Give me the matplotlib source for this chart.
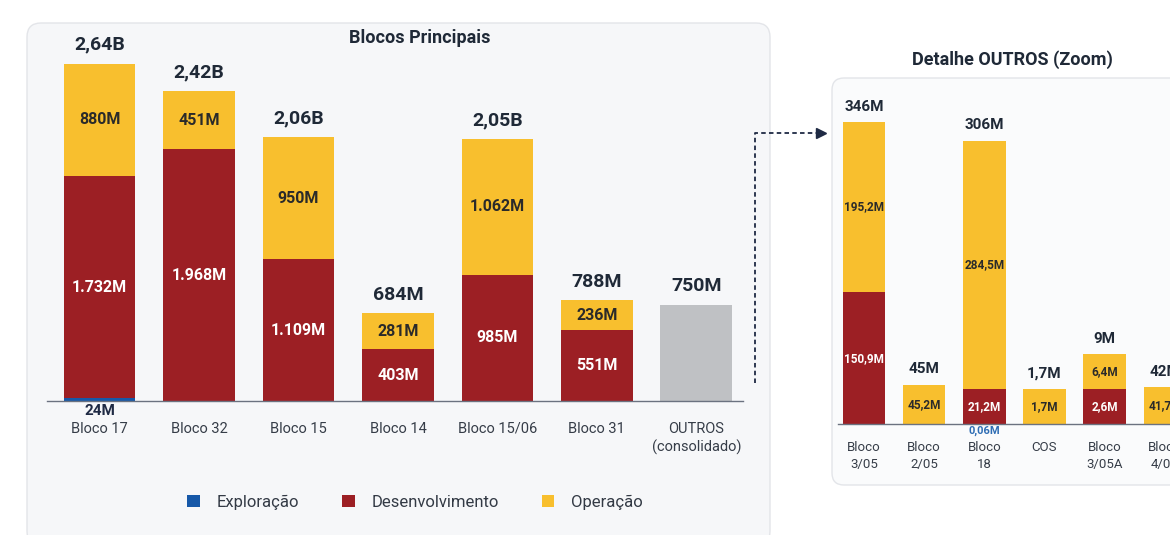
import numpy as np
import matplotlib
matplotlib.use("Agg")
import matplotlib.pyplot as plt
from matplotlib.patches import FancyBboxPatch, Patch
from matplotlib.lines import Line2D
from matplotlib.transforms import IdentityTransform

plt.rcParams['font.family'] = ['Roboto', 'DejaVu Sans']

# ---------------- data ----------------
main_blocks = ["Bloco 17", "Bloco 32", "Bloco 15", "Bloco 14", "Bloco 15/06",
               "Bloco 31", "OUTROS\n(consolidado)"]
main_exploracao = [24, 0, 0, 0, 0, 0, 0]
main_desenvolvimento = [1732, 1968, 1109, 403, 985, 551, 0]
main_operacao = [880, 451, 950, 281, 1062, 236, 0]
main_outros = [0, 0, 0, 0, 0, 0, 750]
main_total_labels = ["2,64B", "2,42B", "2,06B", "684M", "2,05B", "788M", "750M"]

zoom_blocks = ["Bloco\n3/05", "Bloco\n2/05", "Bloco\n18", "COS", "Bloco\n3/05A", "Bloco\n4/05"]
zoom_exploracao = [0, 0, 0.06, 0, 0, 0]
zoom_desenvolvimento = [150.9, 0, 21.2, 0, 2.6, 0.3]
zoom_operacao = [195.2, 45.2, 284.5, 1.7, 6.4, 41.7]
zoom_total_labels = ["346M", "45M", "306M", "1,7M", "9M", "42M"]

# ---------------- style ----------------
BLUE = "#1658A8"
RED = "#9C1F24"
YELLOW = "#F8BF2E"
GRAY = "#BFC1C4"
DARK = "#1F2937"
TICK = "#363D48"

W, H = 1170, 535
fig = plt.figure(figsize=(W / 100, H / 100), dpi=100)
fig.patch.set_facecolor("white")


def px_axes(x0, y0, x1, y1):
    return fig.add_axes([x0 / W, 1 - y1 / H, (x1 - x0) / W, (y1 - y0) / H])


# background cards
fig.add_artist(FancyBboxPatch((27, -10), 743, 522,
                              boxstyle="round,pad=0,rounding_size=14",
                              transform=IdentityTransform(), facecolor="#F6F7F9",
                              edgecolor="#E3E5E9", lw=1.0, zorder=-5))
fig.add_artist(FancyBboxPatch((832, 50), 380, 407,
                              boxstyle="round,pad=0,rounding_size=12",
                              transform=IdentityTransform(), facecolor="#FAFBFC",
                              edgecolor="#E3E5E9", lw=1.0, zorder=-5))


def style_axes(ax):
    ax.set_facecolor("none")
    for s in ("top", "right", "left"):
        ax.spines[s].set_visible(False)
    ax.spines["bottom"].set_color("#6B7280")
    ax.spines["bottom"].set_linewidth(1.0)
    ax.set_yticks([])
    ax.tick_params(axis="x", length=0)


def fmt_main(v):
    return f"{v:,.0f}".replace(",", ".") + "M"


def fmt_zoom(v):
    if v < 0.1:
        return f"{v:.2f}".replace(".", ",") + "M"
    return f"{v:.1f}".replace(".", ",") + "M"


# ---------------- left panel ----------------
ax1 = px_axes(47, 20, 743, 401)
style_axes(ax1)
x1 = np.arange(len(main_blocks))
ax1.set_xlim(-0.53, 6.47)
ax1.set_ylim(0, (401 - 20) / 0.128)

bottom = np.zeros(len(x1))
segs = []
for vals, color in ((main_exploracao, BLUE), (main_desenvolvimento, RED),
                    (main_operacao, YELLOW), (main_outros, GRAY)):
    v = np.array(vals, dtype=float)
    ax1.bar(x1, v, width=0.72, bottom=bottom, color=color, linewidth=0)
    segs.append((v, bottom.copy(), color))
    bottom += v
totals_main = bottom

for v, b, color in segs:
    for i in range(len(x1)):
        if v[i] <= 0 or color == GRAY:
            continue
        if color == BLUE:
            ax1.annotate(fmt_main(v[i]), (x1[i], 0), xytext=(0, -2),
                         textcoords="offset points", ha="center", va="top",
                         fontsize=11, fontweight="bold", color="#1F2A44")
        else:
            tc = "white" if color == RED else "#2A2A2A"
            ax1.text(x1[i], b[i] + v[i] / 2, fmt_main(v[i]), ha="center", va="center",
                     fontsize=11.5, fontweight="bold", color=tc)

for i, lab in enumerate(main_total_labels):
    ax1.annotate(lab, (x1[i], totals_main[i]), xytext=(0, 7), textcoords="offset points",
                 ha="center", va="bottom", fontsize=14, fontweight="bold", color=DARK)

ax1.set_xticks(x1)
ax1.set_xticklabels(main_blocks, fontsize=10.5, color=TICK, linespacing=1.35)
ax1.tick_params(axis="x", pad=15)

# ---------------- right panel ----------------
ax2 = px_axes(838, 95, 1201, 424)
style_axes(ax2)
x2 = np.arange(len(zoom_blocks))
ax2.set_xlim(-0.43, 5.6)
ax2.set_ylim(0, (424 - 95) / 0.873)

MIN_SEG = 40  # minimum drawn height for labelled segments in the zoom panel


def shown(v):
    return np.where(v >= 1, np.maximum(v, MIN_SEG), v)


bottom = np.zeros(len(x2))
segs = []
for vals, color, floor in ((zoom_exploracao, BLUE, False), (zoom_desenvolvimento, RED, True),
                           (zoom_operacao, YELLOW, True)):
    v = np.array(vals, dtype=float)
    h = shown(v) if floor else v
    ax2.bar(x2, h, width=0.71, bottom=bottom, color=color, linewidth=0)
    segs.append((v, h, bottom.copy(), color))
    bottom += h
totals_zoom = bottom

for v, h, b, color in segs:
    for i in range(len(x2)):
        if v[i] <= 0:
            continue
        if color == BLUE:
            ax2.annotate(fmt_zoom(v[i]), (x2[i], 0), xytext=(0, -1),
                         textcoords="offset points", ha="center", va="top",
                         fontsize=8, fontweight="bold", color="#2E6DB4")
        elif v[i] >= 1:
            tc = "white" if color == RED else "#2A2A2A"
            ax2.text(x2[i], b[i] + h[i] / 2, fmt_zoom(v[i]), ha="center", va="center",
                     fontsize=8.5, fontweight="bold", color=tc)

for i, lab in enumerate(zoom_total_labels):
    ax2.annotate(lab, (x2[i], totals_zoom[i]), xytext=(0, 6), textcoords="offset points",
                 ha="center", va="bottom", fontsize=11, fontweight="bold", color=DARK)

ax2.set_xticks(x2)
ax2.set_xticklabels(zoom_blocks, fontsize=9.5, color=TICK, linespacing=1.45)
ax2.tick_params(axis="x", pad=12)

# ---------------- titles ----------------
fig.text(420 / W, 1 - 38 / H, "Blocos Principais", ha="center", va="center",
         fontsize=13, fontweight="bold", color=DARK)
fig.text(1012 / W, 1 - 60 / H, "Detalhe OUTROS (Zoom)", ha="center", va="center",
         fontsize=13, fontweight="bold", color=DARK)

# ---------------- connector arrow ----------------
fig.add_artist(Line2D([755, 755, 818], [H - 383, H - 133, H - 133],
                      transform=IdentityTransform(), color="#1F2A44", lw=1.3,
                      linestyle=(0, (2.5, 1.8))))
fig.add_artist(Line2D([821], [H - 133], transform=IdentityTransform(), marker=">",
                      markersize=7, color="#1F2A44", linestyle="none"))

# ---------------- legend ----------------
handles = [Patch(facecolor=BLUE, label="Exploração"),
           Patch(facecolor=RED, label="Desenvolvimento"),
           Patch(facecolor=YELLOW, label="Operação")]
fig.legend(handles=handles, loc="center", bbox_to_anchor=(415 / W, 1 - 502 / H), ncol=3,
           frameon=False, fontsize=12, handlelength=0.75, handleheight=0.75,
           columnspacing=2.6, handletextpad=1.0, labelcolor="#333A45")

fig.savefig("out.png", dpi=100)
